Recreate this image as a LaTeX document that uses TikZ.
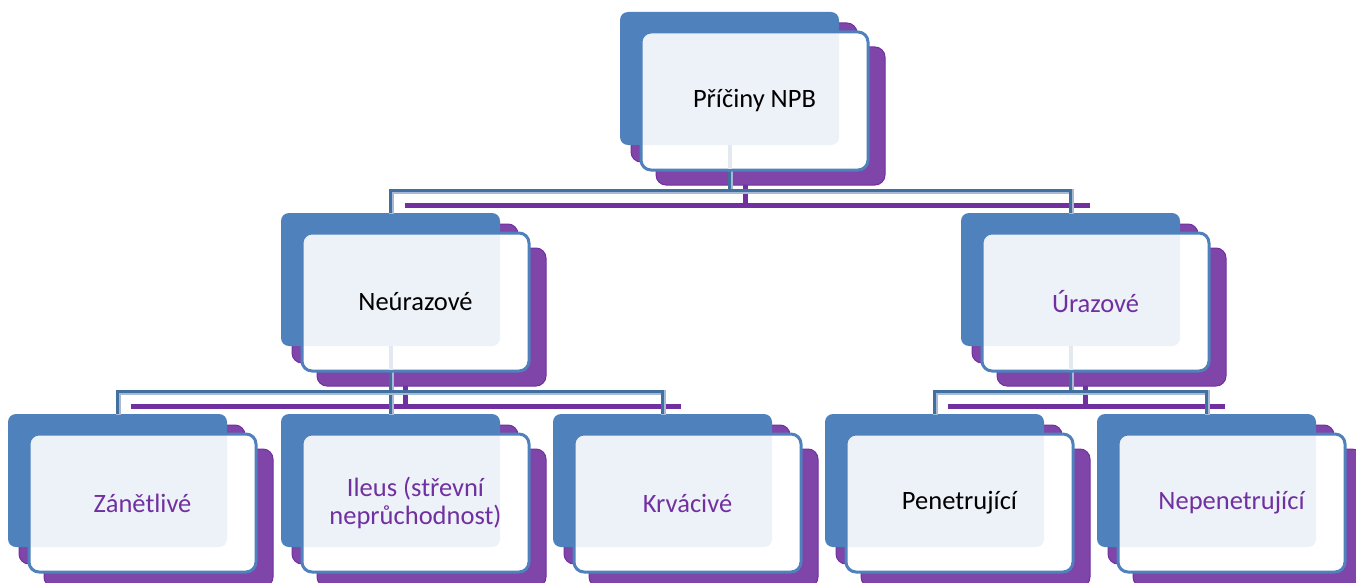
\documentclass[tikz,border=0pt]{standalone}
\usepackage{fontspec}
\setmainfont{Carlito}
\usetikzlibrary{calc}
\pgfdeclarelayer{purp}\pgfdeclarelayer{blu}\pgfdeclarelayer{conn}
\pgfsetlayers{purp,blu,conn,main}
\definecolor{bblue}{HTML}{4F81BD}
\definecolor{bdark}{HTML}{41709F}
\definecolor{blight}{HTML}{A7BAD5}
\definecolor{ppl}{HTML}{7F45A8}
\definecolor{pdark}{HTML}{7030A0}
\definecolor{tintc}{HTML}{EDF1F8}
\definecolor{stubc}{HTML}{E4E8EF}
\tikzset{
 purpbox/.style={rectangle, fill=ppl, draw=pdark, line width=1pt, rounded corners=10pt, inner sep=0pt, outer sep=0pt},
 bluebox/.style={rectangle, fill=bblue, rounded corners=8pt, inner sep=0pt, outer sep=0pt},
 frontbox/.style={rectangle, fill=white, rounded corners=10pt, inner sep=0pt, outer sep=0pt},
 frontline/.style={draw=bblue, line width=3pt, rounded corners=10pt},
 lbl/.style={font=\fontsize{26.5}{28.5}\selectfont, align=center},
 bconn/.style={draw=bdark, line width=3pt, preaction={draw=blight, line width=5.5pt, transform canvas={xshift=0.8pt,yshift=-1pt}}},
 pconn/.style={draw=pdark, line width=5pt},
 stubline/.style={draw=stubc, line width=4pt, shorten >=1.5pt},
}
\newcommand\orgbox[5]{%
\begin{scope}[shift={(#2,#3)}]
\begin{pgfonlayer}{purp}
\node[purpbox, minimum width=226pt, minimum height=139pt] (#1-pa) at (124,80.5) {};
\node[purpbox, minimum width=229pt, minimum height=138pt] (#1-pb) at (150.5,104) {};
\end{pgfonlayer}
\begin{pgfonlayer}{blu}
\node[bluebox, minimum width=219pt, minimum height=133pt] (#1-b) at (109.5,66.5) {};
\end{pgfonlayer}
\node[frontbox, minimum width=227pt, minimum height=138pt] (#1) at (134.5,89) {};
\begin{scope}
\clip[rounded corners=10pt] (#1.south west) rectangle (#1.north east);
\fill[tintc, rounded corners=8pt] (#1-b.south west) rectangle (#1-b.north east);
\end{scope}
\draw[frontline] (#1.south west) rectangle (#1.north east);
\node[lbl, text=#5] (#1-t) at (#1.center) {#4};
\end{scope}}
\begin{document}
\begin{tikzpicture}[x=1pt,y=-1pt]
\useasboundingbox (0,0) rectangle (1356,583);
\orgbox{top}{620}{12}{Příčiny NPB}{black}
\orgbox{neu}{281}{213}{Neúrazové}{black}
\orgbox{ura}{961}{213}{Úrazové}{pdark}
\orgbox{zan}{8}{414}{Zánětlivé}{pdark}
\orgbox{ile}{281}{414}{Ileus (střevní\\neprůchodnost)}{pdark}
\orgbox{krv}{553}{414}{Krvácivé}{pdark}
\orgbox{pen}{825}{414}{Penetrující}{black}
\orgbox{nep}{1097}{414}{Nepenetrující}{pdark}
\coordinate (lv1) at (0,190.5);
\coordinate (lv2) at (0,391.5);
\coordinate (plv1) at (0,205.5);
\coordinate (plv2) at (0,406.5);
\begin{pgfonlayer}{purp}
\coordinate (p1) at ($(top-b.center)+(16,0)$);
\coordinate (p2) at ($(neu-b.center)+(15,0)$);
\coordinate (p3) at ($(ura-b.center)+(15,0)$);
\draw[pconn] (p1 |- top-pb.south) -- (p1 |- plv1);
\draw[pconn] ($(neu-b.north |- plv1)+(14,0)$) -- ($(ura-b.north |- plv1)+(19,0)$);
\draw[pconn] (p2 |- neu-pb.south) -- (p2 |- plv2);
\draw[pconn] ($(zan-b.north |- plv2)+(13,0)$) -- ($(krv-b.north |- plv2)+(18,0)$);
\draw[pconn] (p3 |- ura-pb.south) -- (p3 |- plv2);
\draw[pconn] ($(pen-b.north |- plv2)+(13,0)$) -- ($(nep-b.north |- plv2)+(18,0)$);
\end{pgfonlayer}
\begin{pgfonlayer}{conn}
\draw[bconn] (top-b.south) -- (top-b.south |- lv1);
\draw[bconn] (neu-b.north) |- (ura-b.north |- lv1) -- (ura-b.north);
\draw[bconn] (neu-b.south) -- (ile-b.north);
\draw[bconn] (zan-b.north) |- (krv-b.north |- lv2) -- (krv-b.north);
\draw[bconn] (ura-b.south) -- (ura-b.south |- lv2);
\draw[bconn] (pen-b.north) |- (nep-b.north |- lv2) -- (nep-b.north);
\end{pgfonlayer}
\draw[stubline] (top-b.south) -- (top-b.south |- top.south);
\draw[stubline] (neu-b.south) -- (neu-b.south |- neu.south);
\draw[stubline] (ura-b.south) -- (ura-b.south |- ura.south);
\end{tikzpicture}
\end{document}
